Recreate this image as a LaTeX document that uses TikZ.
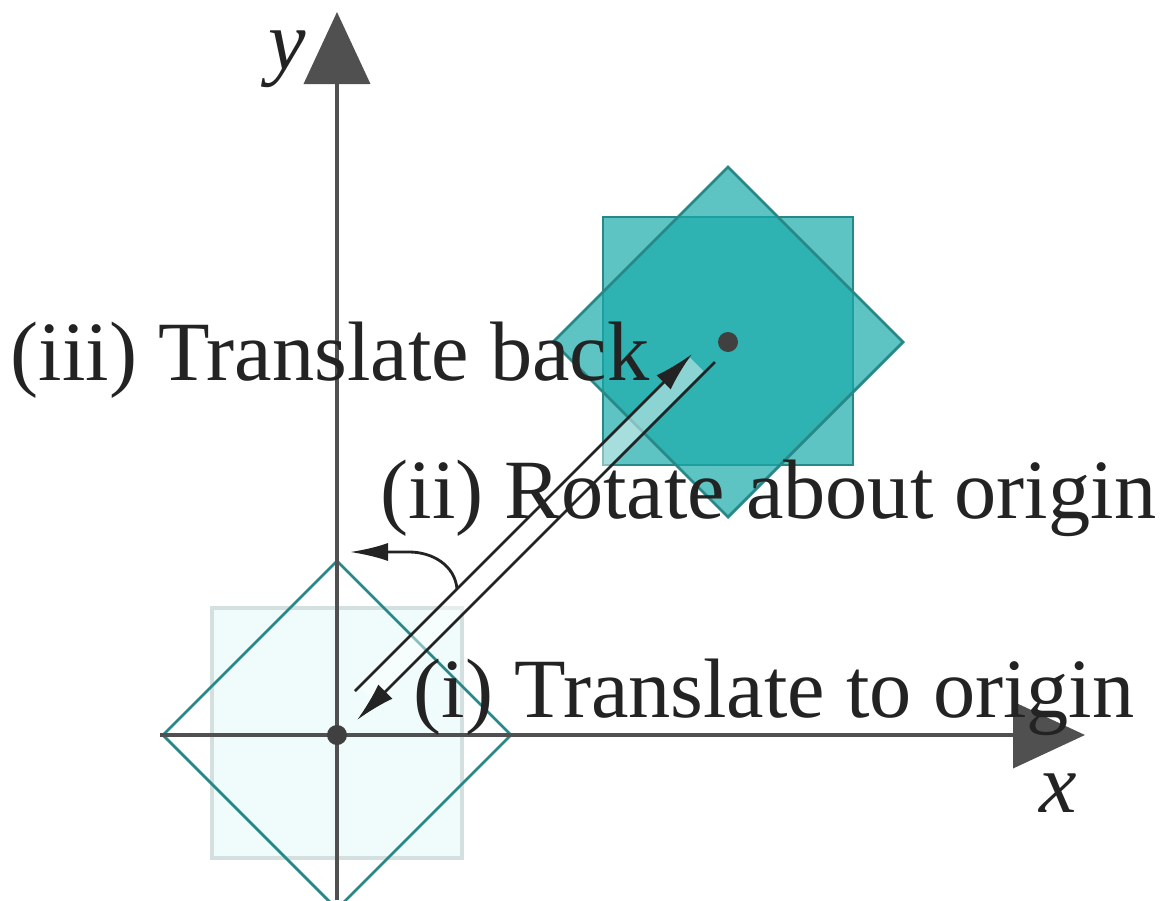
\documentclass[tikz,border=0pt]{standalone}
\usepackage{fontspec}
\setmainfont{Liberation Serif}
\usetikzlibrary{arrows.meta,positioning}
\definecolor{axgray}{RGB}{80,80,80}
\definecolor{inkgray}{RGB}{35,35,35}
\definecolor{tealfill}{RGB}{25,170,170}
\definecolor{tealedge}{RGB}{40,135,135}
\definecolor{palecyan}{RGB}{240,252,252}
\definecolor{paleedge}{RGB}{212,224,224}

\begin{document}
\begin{tikzpicture}[
    axis/.style={line width=1.1pt, axgray, -{Triangle[length=0.72cm, width=0.66cm]}},
    dot/.style={circle, fill=axgray!80!black, inner sep=0pt, minimum size=0.2cm},
    movearrow/.style={line width=0.8pt, inkgray, -{Latex[length=0.4cm, width=0.2cm]}},
    shiftsq/.style={fill=tealfill, fill opacity=0.7, draw=tealedge, line width=0.8pt},
    steplabel/.style={font=\fontsize{24}{28}\selectfont, text=inkgray, inner sep=0pt, anchor=base west},
    axlabel/.style={font=\fontsize{24}{28}\selectfont\itshape, text=inkgray}
  ]
    \useasboundingbox (-3.37,-1.65) rectangle (8.35,7.35);

    % Original square and its rotated copy
    \draw[fill=palecyan, draw=paleedge, line width=1pt] (-1.25,-1.23) rectangle (1.25,1.27);
    \draw[tealedge, line width=0.8pt] (-1.74,0) -- (0,1.74) -- (1.74,0) -- (0,-1.74) -- cycle;

    % Axes
    \coordinate (xstart) at (-1.77,0);
    \coordinate (xend) at (7.48,0);
    \coordinate (ystart) at (0,-1.65);
    \coordinate (yend) at (0,7.23);
    \draw[axis] (xstart) -- (xend);
    \draw[axis] (ystart) -- (yend);
    \node[axlabel] (xlab) at (7.21,-0.58) {x};
    \node[axlabel] (ylab) at (-0.50,6.76) {y};

    % Translated square and its rotated copy
    \begin{scope}[shift={(3.91,3.93)}]
      \path[shiftsq] (-1.25,-1.23) rectangle (1.25,1.25);
      \path[shiftsq] (-1.75,0) -- (0,1.75) -- (1.75,0) -- (0,-1.75) -- cycle;
    \end{scope}

    % Origin and centre
    \node[dot] (O) at (0,0) {};
    \node[dot] (C) at (3.91,3.93) {};

    % Double move arrows
    \coordinate (backstart) at (0.18,0.44);
    \coordinate (backend) at (3.55,3.81);
    \coordinate (tostart) at (3.78,3.73);
    \coordinate (toend) at (0.20,0.15);
    \draw[white, opacity=0.45, line width=0.19cm] (0.30,0.405) -- (3.60,3.705);
    \draw[movearrow] (backstart) -- (backend);
    \draw[movearrow] (tostart) -- (toend);

    % Rotation arc
    \coordinate (rotstart) at (1.20,1.46);
    \coordinate (rotend) at (0.13,1.83);
    \draw[movearrow, -{Latex[length=0.38cm, width=0.18cm]}]
      (rotstart) to[out=95, in=0] (0.72,1.83) -- (rotend);

    % Step labels
    \node[steplabel] (back) at (-3.27,3.55) {(iii) Translate back};
    \node[steplabel] (rot) at (0.43,2.17) {(ii) Rotate about origin};
    \node[steplabel] (toorig) at (0.76,0.18) {(i) Translate to origin};
  \end{tikzpicture}
\end{document}
